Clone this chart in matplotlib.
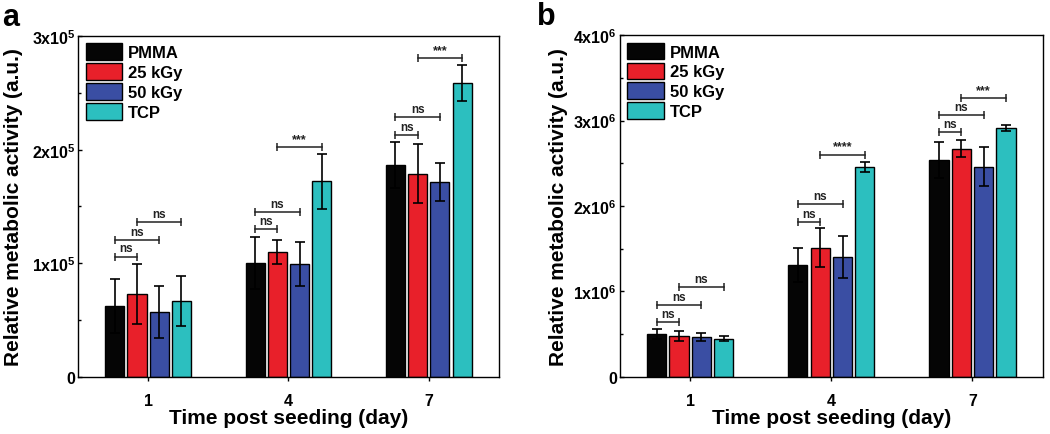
import matplotlib
matplotlib.use("Agg")
import matplotlib.pyplot as plt
import numpy as np
from matplotlib.ticker import FuncFormatter, MultipleLocator
from matplotlib.patches import Patch

plt.rcParams['font.family'] = ['Liberation Sans', 'DejaVu Sans']
plt.rcParams['font.weight'] = 'bold'
plt.rcParams['mathtext.fontset'] = 'custom'
plt.rcParams['mathtext.rm'] = 'Liberation Sans:bold'
plt.rcParams['mathtext.bf'] = 'Liberation Sans:bold'
plt.rcParams['mathtext.it'] = 'Liberation Sans:bold'

days = [1, 4, 7]
groups = ["PMMA", "25 kGy", "50 kGy", "TCP"]
colors = ["#050505", "#e8202a", "#3a4ea3", "#2cbfbf"]

# Panel a
a_pmma = [62.4e3, 100.5e3, 186.7e3]
a_25 = [73e3, 109.6e3, 178.8e3]
a_50 = [57e3, 99.4e3, 171.5e3]
a_tcp = [66.6e3, 172e3, 258.6e3]
a_pmma_err = [24e3, 23e3, 20e3]
a_25_err = [26e3, 10.5e3, 26e3]
a_50_err = [23e3, 19e3, 16.5e3]
a_tcp_err = [22e3, 24.5e3, 16e3]

# Panel b
b_pmma = [0.50e6, 1.31e6, 2.54e6]
b_25 = [0.48e6, 1.51e6, 2.67e6]
b_50 = [0.465e6, 1.40e6, 2.46e6]
b_tcp = [0.445e6, 2.456e6, 2.912e6]
b_pmma_err = [0.06e6, 0.20e6, 0.21e6]
b_25_err = [0.06e6, 0.23e6, 0.10e6]
b_50_err = [0.05e6, 0.25e6, 0.23e6]
b_tcp_err = [0.03e6, 0.06e6, 0.035e6]

# significance brackets: (day index, group i, group j, y, label)
a_sig = [(0, 0, 1, 106e3, "ns"), (0, 0, 2, 120.8e3, "ns"), (0, 1, 3, 136.6e3, "ns"),
         (1, 0, 1, 129.9e3, "ns"), (1, 0, 2, 144.8e3, "ns"), (1, 1, 3, 202e3, "***"),
         (2, 0, 1, 213e3, "ns"), (2, 0, 2, 228.4e3, "ns"), (2, 1, 3, 280.6e3, "***")]
b_sig = [(0, 0, 1, 0.637e6, "ns"), (0, 0, 2, 0.836e6, "ns"), (0, 1, 3, 1.047e6, "ns"),
         (1, 0, 1, 1.815e6, "ns"), (1, 0, 2, 2.022e6, "ns"), (1, 1, 3, 2.6e6, "****"),
         (2, 0, 1, 2.865e6, "ns"), (2, 0, 2, 3.06e6, "ns"), (2, 1, 3, 3.26e6, "***")]

fig = plt.figure(figsize=(10.5, 4.35), dpi=100)
ax_a = fig.add_axes([0.0743, 0.131, 0.4009, 0.784])
ax_b = fig.add_axes([0.5902, 0.1317, 0.4031, 0.7853])

bw = 0.41
step = 0.475


def sci_fmt(exp):
    def f(v, pos):
        if abs(v) < 1e-9:
            return "0"
        m = int(round(v / 10 ** exp))
        return r"$\mathbf{%dx10^{%d}}$" % (m, exp)
    return f


def draw(ax, means, errs, sig, ymax, exp, ylabelpad):
    x = np.array(days, dtype=float)
    for k, (m, e) in enumerate(zip(means, errs)):
        xpos = x + (k - 1.5) * step
        ax.bar(xpos, m, width=bw, color=colors[k], edgecolor="black", linewidth=1.0, zorder=2)
        ax.errorbar(xpos, m, yerr=e, fmt="none", ecolor="black", elinewidth=1.2,
                    capsize=3.5, capthick=1.2, zorder=3)
    for d, i, j, y, lab in sig:
        x1 = days[d] + (i - 1.5) * step
        x2 = days[d] + (j - 1.5) * step
        ax.plot([x1, x2], [y, y], color="#222222", lw=1.1, marker="|", markersize=6,
                markeredgewidth=1.1, zorder=4)
        ax.annotate(lab, xy=((x1 + x2) / 2, y), xytext=(0, 1.5), textcoords="offset points",
                    ha="center", va="bottom", fontsize=8.5 if lab == "ns" else 9,
                    fontweight="bold", color="#222222")
    ax.set_xlim(-0.5, 8.5)
    ax.set_ylim(0, ymax)
    ax.set_xticks(days)
    ax.set_xticklabels([str(d) for d in days])
    ax.yaxis.set_major_locator(MultipleLocator(10 ** exp))
    ax.yaxis.set_minor_locator(MultipleLocator(0.5 * 10 ** exp))
    ax.yaxis.set_major_formatter(FuncFormatter(sci_fmt(exp)))
    ax.tick_params(axis="x", which="major", direction="out", length=3, width=1,
                   labelsize=11.5, pad=8.5)
    ax.tick_params(axis="y", which="major", direction="in", length=3, width=1,
                   labelsize=11.5, pad=2)
    ax.tick_params(axis="y", which="minor", direction="in", length=2, width=1)
    for lbl in ax.get_xticklabels() + ax.get_yticklabels():
        lbl.set_fontweight("bold")
    for s in ax.spines.values():
        s.set_linewidth(1.0)
    ax.set_xlabel("Time post seeding (day)", fontsize=15, fontweight="bold", labelpad=0)
    ax.set_ylabel("Relative metabolic activity (a.u.)", fontsize=15, fontweight="bold",
                  labelpad=ylabelpad)
    handles = [Patch(facecolor=c, edgecolor="black", linewidth=1.0) for c in colors]
    ax.legend(handles, groups, loc="upper left", bbox_to_anchor=(0.0, 1.0), frameon=False,
              handlelength=2.2, handleheight=1.15, labelspacing=0.18,
              handletextpad=0.35, borderaxespad=0.35, borderpad=0.1,
              prop={"weight": "bold", "size": 12})


draw(ax_a, [a_pmma, a_25, a_50, a_tcp], [a_pmma_err, a_25_err, a_50_err, a_tcp_err],
     a_sig, 3e5, 5, 6)
draw(ax_b, [b_pmma, b_25, b_50, b_tcp], [b_pmma_err, b_25_err, b_50_err, b_tcp_err],
     b_sig, 4e6, 6, 4)

fig.text(0.002, 0.940, "a", fontsize=22, fontweight="bold", ha="left", va="baseline")
fig.text(0.511, 0.943, "b", fontsize=22, fontweight="bold", ha="left", va="baseline")

fig.savefig("out.png", dpi=100)
